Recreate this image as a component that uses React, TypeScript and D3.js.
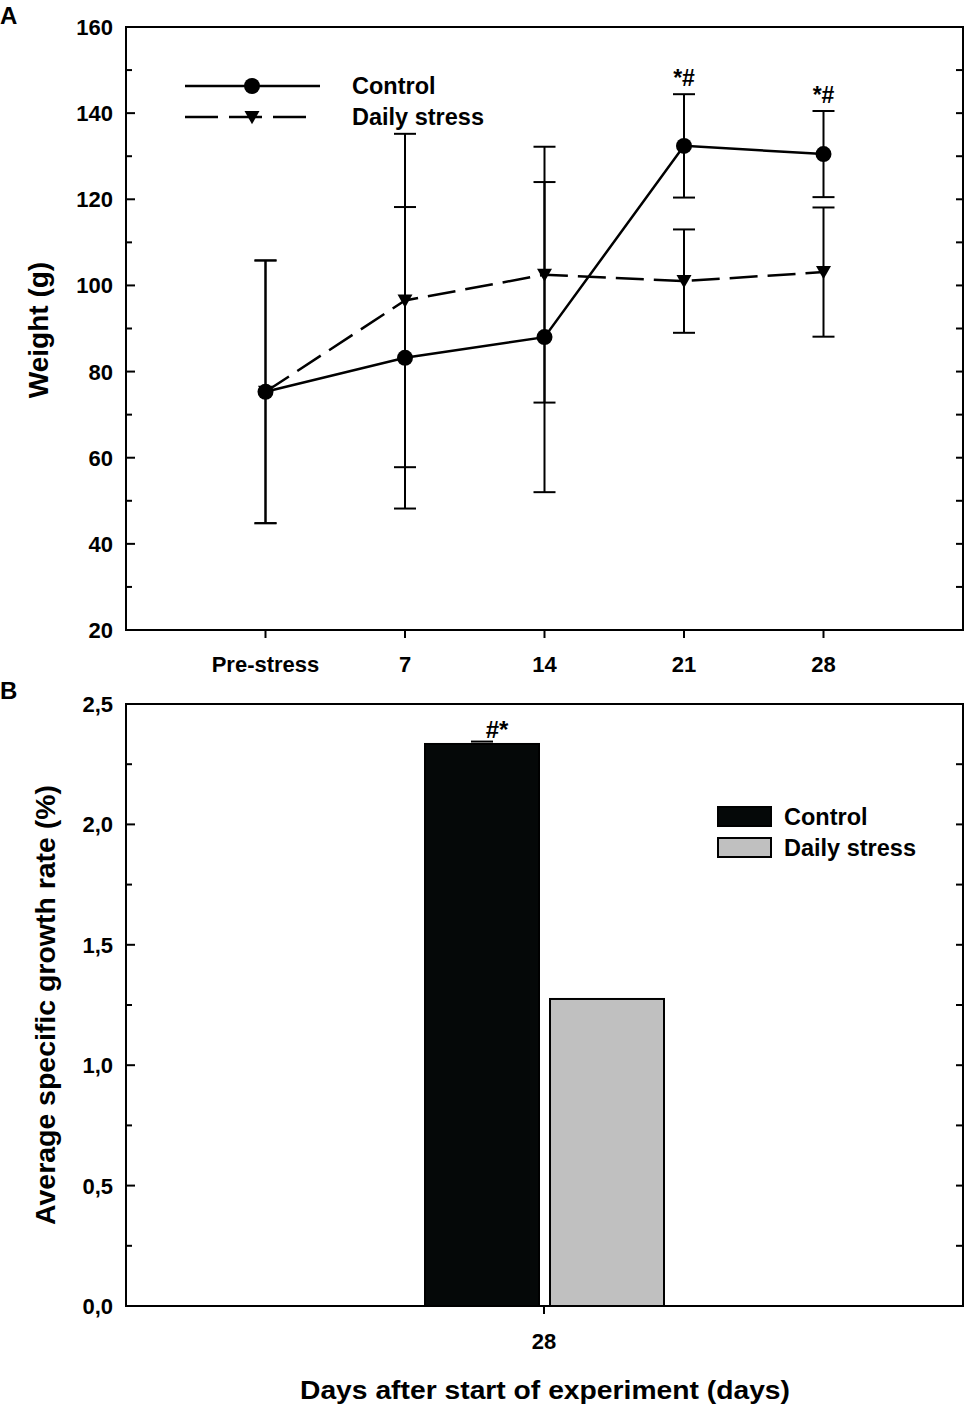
import React from "react";
import * as d3 from "d3";

const timeLabels = ["Pre-stress", "7", "14", "21", "28"];
const controlMean = [75.3, 83.2, 88.0, 132.4, 130.5];
const controlErr = [30.5, 35.0, 36.0, 12.0, 10.0];
const stressMean = [75.3, 96.5, 102.5, 101.0, 103.1];
const stressErr = [30.5, 38.7, 29.7, 12.0, 15.0];
const sigLabelsA = ["", "", "", "*#", "*#"];
const weightTicks = [20, 40, 60, 80, 100, 120, 140, 160];

const barGroups = ["Control", "Daily stress"];
const barValues = [2.334, 1.275];
const barErrors = [0.01, 0];
const barColors = ["#050808", "#c0c0c0"];
const rateTicks = [0, 0.5, 1.0, 1.5, 2.0, 2.5];

const FONT = "'Liberation Sans', Arial, sans-serif";

export default function App() {
  // Panel A
  const L = 126, R = 963;
  const xA = d3.scaleLinear().domain([-1, 5]).range([L, R]);
  const yA = d3.scaleLinear().domain([20, 160]).range([630, 27]);
  const lineGen = d3
    .line<number>()
    .x((_, i) => xA(i))
    .y((d) => yA(d));

  // Panel B
  const yB = d3.scaleLinear().domain([0, 2.5]).range([1306, 704]);
  const xB = d3.scaleBand().domain(barGroups).range([425, 664]).paddingInner(0.088);
  const barCenter = 544;

  const minorA = d3.range(20, 161, 10);
  const minorB = d3.range(0, 2.51, 0.25);
  const fmtB = (v: number) => d3.format(".1f")(v).replace(".", ",");

  const tri = (cx: number, cy: number, s: number) =>
    `M${cx - s},${cy - s * 0.8}L${cx + s},${cy - s * 0.8}L${cx},${cy + s * 0.95}Z`;

  const errBar = (x: number, m: number, e: number, y: d3.ScaleLinear<number, number>, key: string) => (
    <g key={key} stroke="#000" strokeWidth={2}>
      <line x1={x} x2={x} y1={y(m - e)} y2={y(m + e)} />
      <line x1={x - 11} x2={x + 11} y1={y(m + e)} y2={y(m + e)} />
      <line x1={x - 11} x2={x + 11} y1={y(m - e)} y2={y(m - e)} />
    </g>
  );

  return (
    <svg
      width={969}
      height={1407}
      style={{ position: "absolute", left: 0, top: 0, background: "#fff" }}
      fontFamily={FONT}
    >
      <rect x={0} y={0} width={969} height={1407} fill="#fff" />
      {/* ===== Panel A ===== */}
      <text x={0} y={24} fontSize={24} fontWeight="bold">A</text>
      {minorA.map((v) => (
        <line key={"la" + v} x1={L} x2={L + (v % 20 === 0 ? 9 : 6)} y1={yA(v)} y2={yA(v)} stroke="#000" strokeWidth={2} />
      ))}
      {minorA.map((v) => (
        <line key={"ra" + v} x1={R} x2={R - 7} y1={yA(v)} y2={yA(v)} stroke="#000" strokeWidth={2} />
      ))}
      {weightTicks.map((v) => (
        <text key={"lt" + v} x={113} y={yA(v) + 8} textAnchor="end" fontSize={22} fontWeight="bold">
          {v}
        </text>
      ))}
      {timeLabels.map((t, i) => (
        <g key={"xt" + i}>
          <line x1={xA(i)} x2={xA(i)} y1={630} y2={638} stroke="#000" strokeWidth={2} />
          <text x={xA(i)} y={672} textAnchor="middle" fontSize={22} fontWeight="bold">
            {t}
          </text>
        </g>
      ))}
      <rect x={L} y={yA(160)} width={R - L} height={yA(20) - yA(160)} fill="none" stroke="#000" strokeWidth={2} />
      <text
        transform={`translate(48,330) rotate(-90)`}
        textAnchor="middle"
        fontSize={28}
        fontWeight="bold"
      >
        Weight (g)
      </text>

      {controlMean.map((m, i) => errBar(xA(i), m, controlErr[i], yA, "ce" + i))}
      {stressMean.map((m, i) => errBar(xA(i), m, stressErr[i], yA, "se" + i))}

      <path d={lineGen(stressMean) || ""} fill="none" stroke="#000" strokeWidth={2.5} strokeDasharray="28,10" />
      <path d={lineGen(controlMean) || ""} fill="none" stroke="#000" strokeWidth={2.5} />
      {stressMean.map((m, i) => (
        <path key={"tr" + i} d={tri(xA(i), yA(m), 7.5)} fill="#000" />
      ))}
      {controlMean.map((m, i) => (
        <circle key={"ci" + i} cx={xA(i)} cy={yA(m)} r={8} fill="#000" />
      ))}
      {sigLabelsA.map((s, i) =>
        s ? (
          <text key={"sg" + i} x={xA(i)} y={yA(controlMean[i] + controlErr[i]) - 8} textAnchor="middle" fontSize={23} fontWeight="bold">
            {s}
          </text>
        ) : null
      )}

      {/* legend A */}
      <line x1={185} x2={320} y1={86} y2={86} stroke="#000" strokeWidth={2.5} />
      <circle cx={252} cy={86} r={8} fill="#000" />
      <line x1={185} x2={306} y1={117} y2={117} stroke="#000" strokeWidth={2.5} strokeDasharray="33,11" />
      <path d={tri(252, 117, 7.5)} fill="#000" />
      <text x={352} y={94} fontSize={23.5} fontWeight="bold">Control</text>
      <text x={352} y={125} fontSize={23.5} fontWeight="bold">Daily stress</text>

      {/* ===== Panel B ===== */}
      <text x={0} y={699} fontSize={24} fontWeight="bold">B</text>
      {minorB.map((v, i) => (
        <line key={"lb" + i} x1={L} x2={L + (i % 2 === 0 ? 9 : 6)} y1={yB(v)} y2={yB(v)} stroke="#000" strokeWidth={2} />
      ))}
      {minorB.map((v, i) => (
        <line key={"rb" + i} x1={R} x2={R - 7} y1={yB(v)} y2={yB(v)} stroke="#000" strokeWidth={2} />
      ))}
      {rateTicks.map((v) => (
        <text key={"bt" + v} x={113} y={yB(v) + 8} textAnchor="end" fontSize={22} fontWeight="bold">
          {fmtB(v)}
        </text>
      ))}

      {barGroups.map((g, i) => (
        <rect
          key={"bar" + i}
          x={xB(g)!}
          y={yB(barValues[i])}
          width={xB.bandwidth()}
          height={yB(0) - yB(barValues[i])}
          fill={barColors[i]}
          stroke="#000"
          strokeWidth={2}
        />
      ))}
      {barGroups.map((g, i) =>
        barErrors[i] > 0 ? (
          <g key={"be" + i} stroke="#000" strokeWidth={2}>
            <line x1={xB(g)! + xB.bandwidth() / 2 - 11} x2={xB(g)! + xB.bandwidth() / 2 + 11} y1={yB(barValues[i] + barErrors[i])} y2={yB(barValues[i] + barErrors[i])} />
          </g>
        ) : null
      )}
      <text x={xB("Control")! + xB.bandwidth() / 2 + 15} y={738} textAnchor="middle" fontSize={24} fontWeight="bold">
        #*
      </text>

      <rect x={L} y={yB(2.5)} width={R - L} height={yB(0) - yB(2.5)} fill="none" stroke="#000" strokeWidth={2} />
      <line x1={barCenter} x2={barCenter} y1={1306} y2={1314} stroke="#000" strokeWidth={2} />
      <text x={barCenter} y={1349} textAnchor="middle" fontSize={22} fontWeight="bold">28</text>
      <text
        x={545}
        y={1399}
        textAnchor="middle"
        fontSize={26}
        fontWeight="bold"
        textLength={490}
        lengthAdjust="spacingAndGlyphs"
      >
        Days after start of experiment (days)
      </text>
      <text
        transform={`translate(55,1005) rotate(-90)`}
        textAnchor="middle"
        fontSize={27}
        fontWeight="bold"
        textLength={440}
        lengthAdjust="spacingAndGlyphs"
      >
        Average specific growth rate (%)
      </text>

      {/* legend B */}
      {barGroups.map((g, i) => (
        <g key={"lgb" + i}>
          <rect x={718} y={807 + i * 31} width={53} height={19} fill={barColors[i]} stroke="#000" strokeWidth={2} />
          <text x={784} y={825 + i * 31} fontSize={23.5} fontWeight="bold">
            {g}
          </text>
        </g>
      ))}
    </svg>
  );
}
